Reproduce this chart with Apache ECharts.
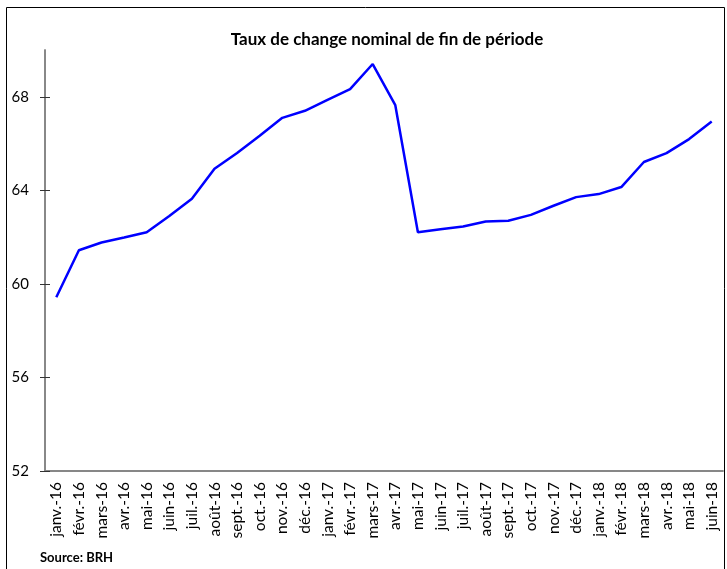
<!DOCTYPE html>
<html>
<head>
<meta charset="utf-8">
<script src="https://cdn.jsdelivr.net/npm/echarts@6/dist/echarts.min.js"></script>
<style>
html, body { margin: 0; padding: 0; background: #fff; }
#chart { width: 727px; height: 569px; }
</style>
</head>
<body>
<div id="chart"></div>
<script>
// mois (fin de période)
var months = ['janv.-16', 'févr.-16', 'mars-16', 'avr.-16', 'mai-16', 'juin-16', 'juil.-16', 'août-16',
    'sept.-16', 'oct.-16', 'nov.-16', 'déc.-16', 'janv.-17', 'févr.-17', 'mars-17', 'avr.-17',
    'mai-17', 'juin-17', 'juil.-17', 'août-17', 'sept.-17', 'oct.-17', 'nov.-17', 'déc.-17',
    'janv.-18', 'févr.-18', 'mars-18', 'avr.-18', 'mai-18', 'juin-18'];
// taux HTG / USD
var rates = [59.43, 61.44, 61.77, 61.98, 62.21, 62.90, 63.64, 64.92,
    65.60, 66.33, 67.10, 67.40, 67.87, 68.33, 69.40, 67.64,
    62.21, 62.34, 62.45, 62.67, 62.70, 62.95, 63.34, 63.71,
    63.84, 64.14, 65.21, 65.59, 66.19, 66.94];
var yTicks = [52, 56, 60, 64, 68];

var font = 'Lato, "Open Sans", sans-serif';
var chart = echarts.init(document.getElementById('chart'));

var xBase = {
    type: 'category',
    data: months,
    position: 'bottom',
    boundaryGap: true,
    axisLine: { lineStyle: { color: '#808080', width: 1.5 } },
    axisTick: { length: 5, lineStyle: { color: '#333', width: 1 } }
};
var yBase = {
    type: 'value',
    min: 52,
    max: 70,
    interval: 4,
    position: 'left',
    splitLine: { show: false },
    axisLine: { show: true, lineStyle: { color: '#808080', width: 1.5 } },
    axisTick: { show: true, length: 5, customValues: yTicks, lineStyle: { color: '#333', width: 1 } }
};

chart.setOption({
    animation: false,
    title: {
        text: 'Taux de change nominal de fin de période',
        left: 382,
        textAlign: 'center',
        top: 26,
        textStyle: { fontFamily: font, fontSize: 17, fontWeight: 'bold', color: '#000' }
    },
    graphic: [
        { type: 'rect', shape: { x: 6.5, y: 7.5, width: 718, height: 575 },
          style: { fill: null, stroke: '#000', lineWidth: 1 } },
        { type: 'text', left: 40, top: 551,
          style: { text: 'Source: BRH', font: 'bold 13px ' + font, fill: '#000' } }
    ],
    grid: { left: 45, right: 4, top: 50, bottom: 98, containLabel: false },
    xAxis: [
        Object.assign({}, xBase, {
            axisLabel: { rotate: 90, fontFamily: font, fontSize: 15.5, color: '#000', margin: 11, interval: 0 }
        }),
        Object.assign({}, xBase, {
            axisTick: { inside: true, length: 5, lineStyle: { color: '#333', width: 1 } },
            axisLabel: { show: false }
        })
    ],
    yAxis: [
        Object.assign({}, yBase, {
            axisLabel: { customValues: yTicks, fontFamily: font, fontSize: 15, color: '#000', margin: 16 }
        }),
        Object.assign({}, yBase, {
            axisTick: { show: true, inside: true, length: 5, customValues: yTicks, lineStyle: { color: '#333', width: 1 } },
            axisLabel: { show: false }
        })
    ],
    series: [{
        type: 'line',
        data: rates,
        showSymbol: false,
        symbol: 'none',
        lineStyle: { color: '#0000ff', width: 2.5 }
    }]
});
</script>
</body>
</html>
